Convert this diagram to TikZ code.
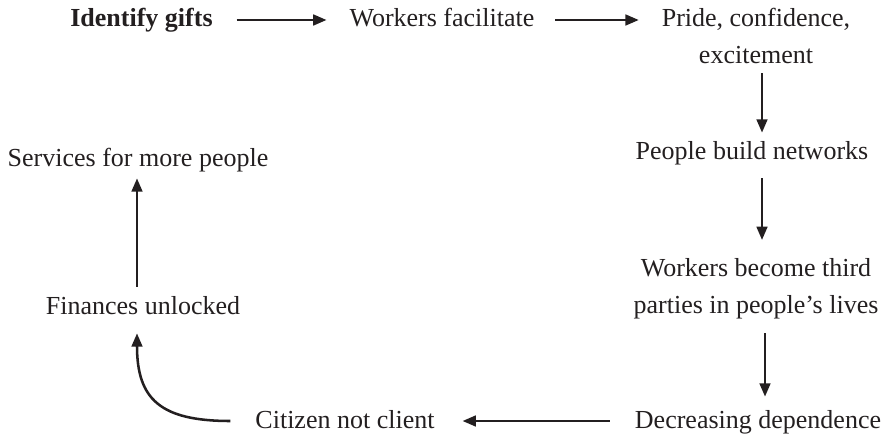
\documentclass[tikz,border=0pt]{standalone}
\usepackage{fontspec}
\setmainfont{Liberation Serif}
\usetikzlibrary{arrows.meta,calc}
\definecolor{ink}{RGB}{35,31,32}
\tikzset{every picture/.style={line width=0.75pt}}
\tikzset{
  phrase/.style={anchor=base, inner sep=0pt, outer sep=0pt, align=center, text=ink,
    text height=13pt, text depth=4pt, font=\fontsize{19.5}{27.75}\selectfont},
  flow/.style={draw=ink, line width=1.9pt, -{Triangle[length=10pt,width=8pt]}},
}

\begin{document}
\begin{tikzpicture}[x=0.75pt,y=0.75pt,yscale=-1,xscale=1]
\useasboundingbox (0,0) rectangle (888,438);

% Text Node
\node [phrase] (gifts) at (141.5,27) {\bfseries Identify gifts};
% Text Node
\node [phrase] (facil) at (442,27) {Workers facilitate};
% Text Node
\node [phrase] (pride) at (756,64) {Pride, confidence,\\excitement};
% Text Node
\node [phrase] (build) at (752,160) {People build networks};
% Text Node
\node [phrase] (third) at (756,313) {Workers become third\\parties in people’s lives};
% Text Node
\node [phrase] (depend) at (758,428) {Decreasing dependence};
% Text Node
\node [phrase] (citizen) at (345,428) {Citizen not client};
% Text Node
\node [phrase] (unlock) at (143,314) {Finances unlocked};
% Text Node
\node [phrase] (services) at (138,167) {Services for more people};

%Straight Lines
\draw [flow] ($(gifts.base east)+(24,-7)$) -- ($(gifts.base -| facil.west)+(-23,-7)$);
\draw [flow] ($(facil.base east)+(21,-7)$) -- ($(facil.base -| pride.west)+(-23,-7)$);
%Straight Lines
\draw [flow] ($(pride.south)+(6,4)$) -- ($(pride.south |- build.north)+(6,-10)$);
\draw [flow] ($(build.south)+(10,13)$) -- ($(build.south |- third.base)+(10,-73)$);
\draw [flow] ($(third.south)+(9,15)$) -- ($(third.south |- depend.north)+(9,-14)$);
%Straight Lines
\draw [flow] ($(depend.base west)+(-25,-7)$) -- ($(depend.base -| citizen.east)+(28,-7)$);
%Curve Lines
\draw [flow] ($(citizen.base west)+(-25,-7)$) .. controls +(-70,0) and +(0,66) .. ($(unlock.south)+(-6,14)$);
%Straight Lines
\draw [flow] ($(unlock.north)+(-6,-10)$) -- ($(unlock.north |- services.south)+(-6,6)$);

\end{tikzpicture}
\end{document}
